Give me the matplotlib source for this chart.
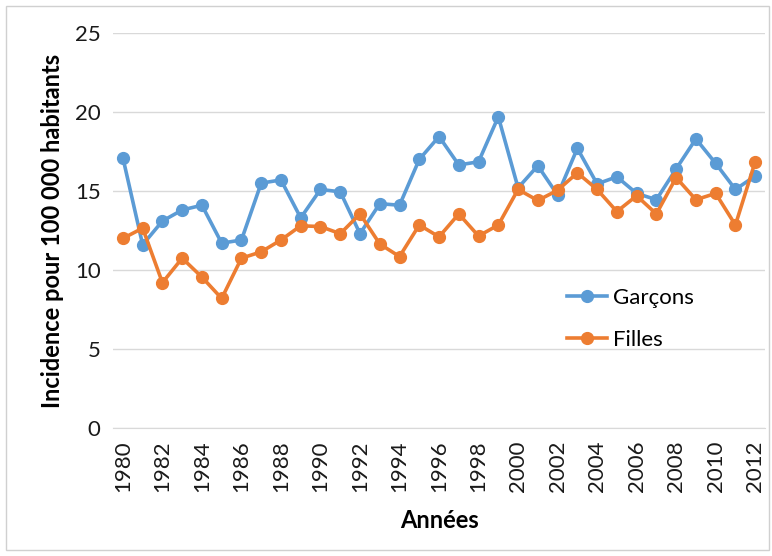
import matplotlib.pyplot as plt
from matplotlib.patches import Rectangle

annees = list(range(1980, 2013))

garcons = [17.1, 11.6, 13.1, 13.8, 14.1, 11.7, 11.9, 15.5, 15.7, 13.3,
           15.1, 14.95, 12.3, 14.2, 14.1, 17.0, 18.45, 16.65, 16.85, 19.7,
           15.2, 16.6, 14.75, 17.7, 15.45, 15.9, 14.85, 14.45, 16.4, 18.3,
           16.75, 15.1, 15.95]

filles = [12.0, 12.65, 9.2, 10.75, 9.55, 8.2, 10.75, 11.15, 11.9, 12.8,
          12.75, 12.3, 13.55, 11.65, 10.85, 12.85, 12.1, 13.55, 12.15, 12.85,
          15.1, 14.4, 15.05, 16.15, 15.1, 13.7, 14.7, 13.55, 15.85, 14.45,
          14.85, 12.85, 16.85]

plt.rcParams['font.family'] = ['Lato', 'DejaVu Sans']

fig = plt.figure(figsize=(7.72, 5.56), dpi=100)
ax = fig.add_axes([0.1464, 0.2302, 0.8446, 0.7104])

ax.plot(annees, garcons, color='#5B9BD5', linewidth=2.6, marker='o',
        markersize=8.5, label='Garçons', zorder=3)
ax.plot(annees, filles, color='#ED7D31', linewidth=2.6, marker='o',
        markersize=8.5, label='Filles', zorder=4)

ax.set_xlim(1979.5, 2012.5)
ax.set_ylim(0, 25)
ax.set_yticks(range(0, 26, 5))
ax.set_xticks(annees[::2])
ax.set_xticklabels([str(a) for a in annees[::2]], rotation=90)
ax.tick_params(axis='both', length=0, labelsize=16, colors='#1a1a1a')
ax.tick_params(axis='x', pad=9)
ax.tick_params(axis='y', pad=9)

ax.grid(axis='y', color='#d9d9d9', linewidth=1)
ax.set_axisbelow(True)
for s in ['top', 'right', 'left']:
    ax.spines[s].set_visible(False)
ax.spines['bottom'].set_color('#d9d9d9')

ax.set_ylabel('Incidence pour 100 000 habitants', fontsize=17,
              fontweight='bold', labelpad=8)
ax.set_xlabel('Années', fontsize=17, fontweight='bold', labelpad=12)

ax.legend(loc='upper left', bbox_to_anchor=(0.665, 0.405), frameon=False,
          fontsize=16, handlelength=1.8, handletextpad=0.3, labelspacing=1.0)

fig.patches.append(Rectangle((0.008, 0.01), 0.988, 0.98, transform=fig.transFigure,
                             fill=False, edgecolor='#d0d0d0', linewidth=1))

fig.savefig('out.png', dpi=100)
